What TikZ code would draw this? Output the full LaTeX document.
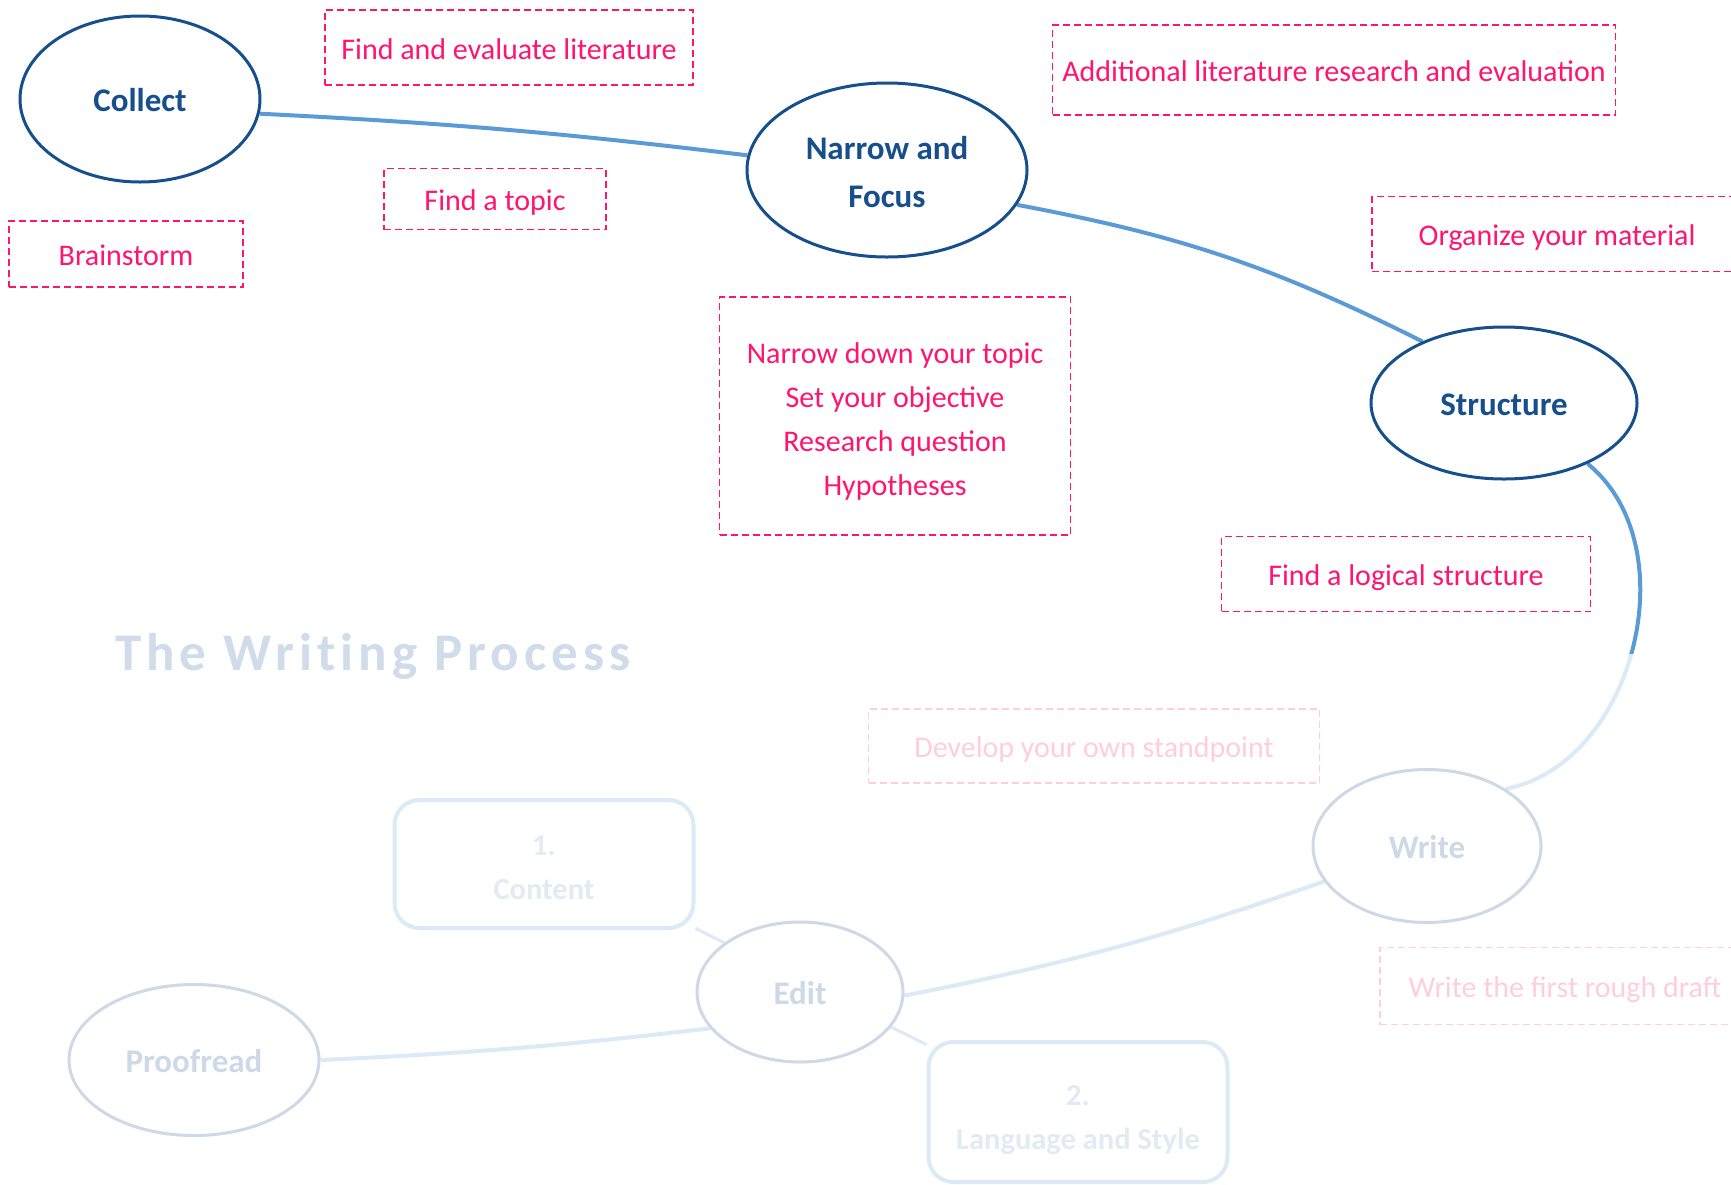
\documentclass[tikz,border=0pt]{standalone}
\usepackage{fontspec}
\setmainfont{Carlito}
\usetikzlibrary{shapes.geometric}
\pgfdeclarelayer{background}
\pgfsetlayers{background,main}
\definecolor{darkblue}{RGB}{23,78,140}
\definecolor{lineblue}{RGB}{91,155,213}
\definecolor{pinkred}{RGB}{255,20,110}
\definecolor{titlecol}{RGB}{208,220,233}
\definecolor{boxtext}{RGB}{120,160,205}
\newcommand{\firstline}[1]{\rule{0pt}{#1}}
\tikzset{
  fixedlines/.style={execute at begin node={\rule{0pt}{#1}}, execute at end node={\rule[-8pt]{0pt}{0pt}}},
  stage/.style={ellipse, draw=darkblue, line width=3pt, fill=white, text=darkblue,
    font=\bfseries\fontsize{33}{48}\selectfont, align=center, inner sep=0pt, fixedlines=32.5pt},
  note/.style={rectangle, draw=pinkred, dash pattern=on 7pt off 4pt, line width=1.8pt,
    text=pinkred, font=\fontsize{30}{44}\selectfont, align=center, inner sep=0pt, fixedlines=31.6pt},
  link/.style={draw=lineblue, line width=4pt},
  substep/.style={rectangle, rounded corners=25pt, draw=lineblue, line width=4pt,
    fill=white, text=boxtext, font=\bfseries\fontsize{30.5}{44}\selectfont, align=center, inner sep=0pt},
  veil/.style={fill=white, fill opacity=0.79, draw=none}
}
\begin{document}
\begin{tikzpicture}[x=1pt,y=1pt]
\useasboundingbox (0,0) rectangle (1731,-1184);

% stages
\node[stage, minimum width=240pt, minimum height=166pt] (collect) at (140,-99) {Collect};
\node[stage, minimum width=280pt, minimum height=174pt] (narrow) at (887,-170) {\firstline{35pt}Narrow and\\Focus};
\node[stage, minimum width=266pt, minimum height=152pt] (structure) at (1504,-403) {Structure};
\node[stage, minimum width=228pt, minimum height=153pt] (write) at (1427,-846) {Write};
\node[stage, minimum width=206pt, minimum height=140pt] (edit) at (800,-992) {Edit};
\node[stage, minimum width=250pt, minimum height=151pt] (proofread) at (194,-1060) {Proofread};

% sub steps of editing
\node[substep, minimum width=299pt, minimum height=128pt] (content) at (544,-864) {\firstline{28pt}1.\\Content};
\node[substep, minimum width=299pt, minimum height=140pt] (lang) at (1078,-1112) {\firstline{36pt}2.\\Language and Style};

% notes
\node[note, minimum width=368pt, minimum height=75pt] (lit) at (509,-47.5) {Find and evaluate literature};
\node[note, minimum width=222pt, minimum height=61pt] (topic) at (495,-199) {Find a topic};
\node[note, minimum width=234pt, minimum height=66pt] (brain) at (126,-254) {Brainstorm};
\node[note, minimum width=563pt, minimum height=90pt] (addlit) at (1334,-70) {Additional literature research and evaluation};
\node[note, minimum width=370pt, minimum height=75pt] (organize) at (1557,-234) {Organize your material};
\node[note, minimum width=351pt, minimum height=238pt] (narrowbox) at (895,-416) {\firstline{35pt}Narrow down your topic\\Set your objective\\Research question\\Hypotheses};
\node[note, minimum width=369pt, minimum height=75pt] (logical) at (1406,-574) {Find a logical structure};
\node[note, minimum width=451pt, minimum height=74pt] (develop) at (1094,-746) {Develop your own standpoint};
\node[note, minimum width=370pt, minimum height=77pt] (draft) at (1565,-986) {Write the first rough draft};

% connectors
\begin{pgfonlayer}{background}
\draw[link] (collect.-7) to[bend left=2] (narrow.174);
\draw[link] (narrow.-15) to[bend left=8] (structure.143);
\draw[link] (structure.-36) to[bend left=65] (write.36);
\draw[link] (write.-161) to[bend left=4] (edit.-2);
\draw[link] (edit.-158) to[bend left=2] (proofread.0);
\draw[link, line width=3pt] (edit.147) -- (content.-23);
\draw[link, line width=3pt] (edit.-21) -- (lang.156);
\end{pgfonlayer}

% fading of the later stages
\path[veil] (-10,-654) rectangle (1760,-1200);

% title
\node[anchor=base west, inner sep=0pt, text=titlecol,
  font=\bfseries\fontsize{53}{60}\selectfont\addfontfeature{LetterSpace=9.5,Ligatures=NoCommon}] (title) at (115,-670) {The Writing Process};
\end{tikzpicture}
\end{document}
